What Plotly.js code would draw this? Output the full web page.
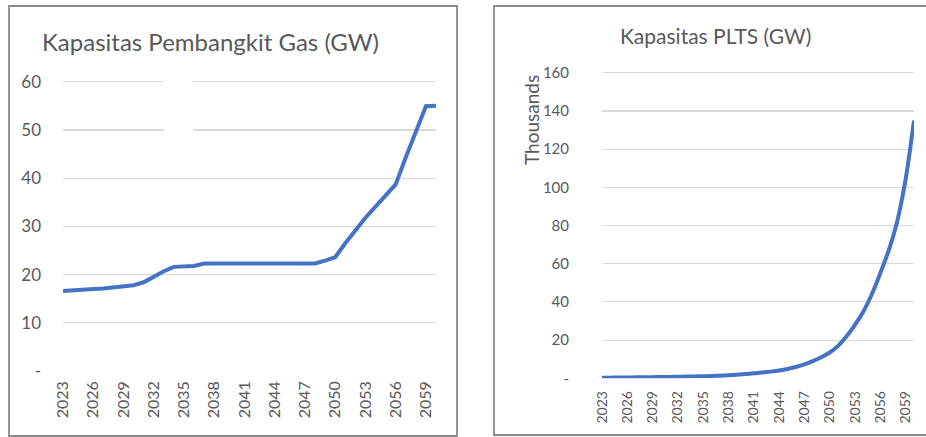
<!DOCTYPE html>
<html>
<head>
<meta charset="utf-8">
<script src="https://cdn.plot.ly/plotly-3.0.1.min.js"></script>
<style>
  html, body { margin: 0; padding: 0; background: #ffffff; }
  #chart { width: 926px; height: 437px; }
</style>
</head>
<body>
<div id="chart"></div>
<script>
// ---- Data ----
const years = ["2023","2024","2025","2026","2027","2028","2029","2030","2031","2032",
               "2033","2034","2035","2036","2037","2038","2039","2040","2041","2042",
               "2043","2044","2045","2046","2047","2048","2049","2050","2051","2052",
               "2053","2054","2055","2056","2057","2058","2059","2060"];

const tickYears = ["2023","2026","2029","2032","2035","2038","2041","2044","2047","2050","2053","2056","2059"];

// Kapasitas Pembangkit Gas (GW)
const gasCapacity = [16.6, 16.8, 16.95, 17.0, 17.1, 17.3, 17.45, 17.8, 18.4, 19.6,
                     20.7, 21.6, 21.8, 21.8, 22.3, 22.3, 22.3, 22.3, 22.3, 22.3,
                     22.3, 22.3, 22.3, 22.3, 22.3, 22.3, 22.9, 23.6, 26.5, 29.2,
                     31.8, 34.1, 36.4, 38.7, 44.3, 49.5, 54.9, 55.0];

// Kapasitas PLTS (GW), in thousands
const pltsCapacity = [0.3, 0.35, 0.4, 0.45, 0.5, 0.55, 0.6, 0.65, 0.7, 0.8,
                      0.9, 1.0, 1.1, 1.2, 1.4, 1.6, 1.9, 2.2, 2.6, 3.0,
                      3.5, 4.1, 4.9, 5.9, 7.3, 9.0, 11.0, 13.5, 17, 22,
                      28, 35, 44, 55, 67, 82, 104, 135];

const gasTickVals = [0, 10, 20, 30, 40, 50, 60];
const gasTickText = ["-", "10", "20", "30", "40", "50", "60"];
const pltsTickVals = [0, 20, 40, 60, 80, 100, 120, 140, 160];
const pltsTickText = ["-", "20", "40", "60", "80", "100", "120", "140", "160"];

const titleGas = "Kapasitas Pembangkit Gas (GW)";
const titlePlts = "Kapasitas PLTS (GW)";
const unitLabel = "Thousands";

// ---- Layout helpers (pixel -> paper) ----
const W = 926, H = 437;
const px = v => v / W;
const py = v => 1 - v / H;

const FONT = "Lato, 'Noto Sans', sans-serif";
const TXT = "#595959";
const GRID = "#d9d9d9";
const BLUE = "#4472C4";

const traces = [
  { x: years, y: gasCapacity, type: "scatter", mode: "lines",
    line: { color: BLUE, width: 4 }, xaxis: "x", yaxis: "y", hoverinfo: "x+y" },
  { x: years, y: pltsCapacity, type: "scatter", mode: "lines",
    line: { color: BLUE, width: 4, shape: "spline", smoothing: 0.8 }, xaxis: "x2", yaxis: "y2", hoverinfo: "x+y" }
];

const layout = {
  width: W, height: H,
  margin: { l: 0, r: 0, t: 0, b: 0 },
  paper_bgcolor: "#ffffff",
  plot_bgcolor: "#ffffff",
  showlegend: false,
  font: { family: FONT, color: TXT },
  xaxis: {
    domain: [px(63), px(436)],
    type: "category", categoryorder: "array", categoryarray: years,
    tickmode: "array", tickvals: tickYears, ticktext: tickYears,
    tickangle: -90, tickfont: { size: 16, color: TXT, family: FONT },
    showgrid: false, zeroline: false, showline: false, ticks: "",
    ticklabelstandoff: 6, anchor: "y"
  },
  yaxis: {
    // top padded by 1 unit so the 60 gridline is not clipped at the edge
    domain: [py(371), py(76.9)],
    range: [0, 61],
    tickmode: "array", tickvals: gasTickVals, ticktext: gasTickText,
    tickfont: { size: 17, color: TXT, family: FONT },
    showgrid: true, gridcolor: GRID, gridwidth: 1.2,
    zeroline: false, showline: false, ticks: "",
    ticklabelstandoff: 21, anchor: "x"
  },
  xaxis2: {
    domain: [px(602), px(914)],
    type: "category", categoryorder: "array", categoryarray: years,
    tickmode: "array", tickvals: tickYears, ticktext: tickYears,
    tickangle: -90, tickfont: { size: 14, color: TXT, family: FONT },
    showgrid: false, zeroline: false, showline: false, ticks: "",
    ticklabelstandoff: 9, anchor: "y2"
  },
  yaxis2: {
    domain: [py(378.3), py(68.9)],
    range: [0, 162],
    tickmode: "array", tickvals: pltsTickVals, ticktext: pltsTickText,
    tickfont: { size: 15, color: TXT, family: FONT },
    showgrid: true, gridcolor: GRID, gridwidth: 1.2,
    zeroline: false, showline: false, ticks: "",
    ticklabelstandoff: 32, anchor: "x2"
  },
  annotations: [
    { text: titleGas, xref: "paper", yref: "paper", x: px(40), y: py(41),
      xanchor: "left", yanchor: "middle", showarrow: false,
      font: { size: 24, color: TXT, family: FONT } },
    { text: titlePlts, xref: "paper", yref: "paper", x: px(715), y: py(36),
      xanchor: "center", yanchor: "middle", showarrow: false,
      font: { size: 21, color: TXT, family: FONT } },
    { text: unitLabel, xref: "paper", yref: "paper", x: px(531), y: py(120),
      xanchor: "center", yanchor: "middle", textangle: -90, showarrow: false,
      font: { size: 19, color: TXT, family: FONT } }
  ],
  shapes: [
    // chart frames
    { type: "rect", xref: "paper", yref: "paper", x0: px(9), x1: px(457), y0: py(436), y1: py(6),
      line: { color: "#8a8a8a", width: 1.8 }, fillcolor: "rgba(0,0,0,0)", layer: "below" },
    { type: "rect", xref: "paper", yref: "paper", x0: px(494), x1: px(940), y0: py(435), y1: py(6),
      line: { color: "#8a8a8a", width: 1.8 }, fillcolor: "rgba(0,0,0,0)", layer: "below" },
    // white patch interrupting the upper gridlines of the left chart (as in the reference)
    { type: "rect", xref: "paper", yref: "paper", x0: px(164), x1: px(193), y0: py(140), y1: py(70),
      line: { width: 0 }, fillcolor: "#ffffff", layer: "above" }
  ]
};

Plotly.newPlot("chart", traces, layout, { staticPlot: true, displayModeBar: false });
</script>
</body>
</html>
